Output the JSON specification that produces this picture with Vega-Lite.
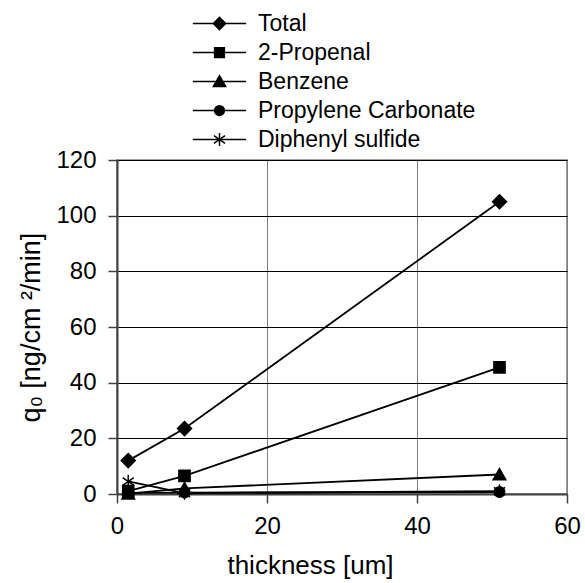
{
  "$schema": "https://vega.github.io/schema/vega-lite/v6.json",
  "width": 450,
  "height": 334,
  "autosize": {"type": "none"},
  "padding": {"left": 117, "top": 160, "right": 18, "bottom": 89},
  "background": "white",
  "config": {
    "font": "Liberation Sans",
    "view": {"stroke": "#808080", "strokeWidth": 1.5},
    "axis": {
      "labelFont": "Liberation Sans",
      "titleFont": "Liberation Sans",
      "labelFontSize": 24,
      "titleFontSize": 26,
      "titleFontWeight": "normal",
      "labelColor": "black",
      "titleColor": "black",
      "domainColor": "#404040",
      "domainWidth": 2,
      "tickColor": "#404040",
      "tickWidth": 1.5,
      "tickSize": 9
    }
  },
  "data": {
    "values": [
      {"series": "Total", "thickness": 1.5, "q0": 12},
      {"series": "Total", "thickness": 9, "q0": 23.5},
      {"series": "Total", "thickness": 51, "q0": 105},
      {"series": "2-Propenal", "thickness": 1.5, "q0": 1},
      {"series": "2-Propenal", "thickness": 9, "q0": 6.5},
      {"series": "2-Propenal", "thickness": 51, "q0": 45.5},
      {"series": "Benzene", "thickness": 1.5, "q0": 0.1},
      {"series": "Benzene", "thickness": 9, "q0": 2},
      {"series": "Benzene", "thickness": 51, "q0": 7},
      {"series": "Propylene Carbonate", "thickness": 1.5, "q0": 0.4},
      {"series": "Propylene Carbonate", "thickness": 9, "q0": 0.5},
      {"series": "Propylene Carbonate", "thickness": 51, "q0": 0.7},
      {"series": "Diphenyl sulfide", "thickness": 1.5, "q0": 4.5},
      {"series": "Diphenyl sulfide", "thickness": 9, "q0": 0.3},
      {"series": "Diphenyl sulfide", "thickness": 51, "q0": 1}
    ]
  },
  "encoding": {
    "x": {
      "field": "thickness",
      "type": "quantitative",
      "title": "thickness [um]",
      "scale": {"domain": [0, 60], "nice": false},
      "axis": {
        "values": [0, 20, 40, 60],
        "grid": true,
        "gridColor": "#808080",
        "gridWidth": 1,
        "labelPadding": 11,
        "titlePadding": 14,
        "titleX": 193,
        "titleAlign": "center",
        "labelFlush": false
      }
    },
    "y": {
      "field": "q0",
      "type": "quantitative",
      "title": "q₀ [ng/cm ²/min]",
      "scale": {"domain": [0, 120], "nice": false},
      "axis": {
        "values": [0, 20, 40, 60, 80, 100, 120],
        "grid": true,
        "gridColor": "black",
        "gridWidth": 1,
        "labelPadding": 12,
        "titlePadding": 10,
        "titleFontSize": 27,
        "labelFlush": false
      }
    }
  },
  "layer": [
    {
      "mark": {"type": "line", "color": "black", "strokeWidth": 1.8},
      "encoding": {"detail": {"field": "series"}}
    },
    {
      "mark": {"type": "point", "filled": true, "fill": "black", "stroke": "black", "strokeWidth": 1.5, "size": 196, "opacity": 1},
      "encoding": {
        "shape": {
          "field": "series",
          "scale": {
            "domain": ["Total", "2-Propenal", "Benzene", "Propylene Carbonate", "Diphenyl sulfide"],
            "range": [
              "M0,-1L1,0L0,1L-1,0Z",
              "M-0.8,-0.8H0.8V0.8H-0.8Z",
              "M0,-0.85L0.9,0.75H-0.9Z",
              "M0.75,0A0.75,0.75,0,1,1,-0.75,0A0.75,0.75,0,1,1,0.75,0Z",
              "M0,-0.95V0.95M-0.8,-0.55L0.8,0.55M-0.8,0.55L0.8,-0.55"
            ]
          },
          "legend": null
        }
      }
    },
    {
      "mark": {"type": "point", "filled": false, "color": "black", "strokeWidth": 1.5, "size": 169, "opacity": 0},
      "encoding": {
        "shape": {
          "field": "series",
          "scale": {
            "domain": ["Total", "2-Propenal", "Benzene", "Propylene Carbonate", "Diphenyl sulfide"],
            "range": [
              "M-4.1,0L4.1,0M0,-0.95L0.95,0L0,0.95L-0.95,0ZM0,-0.75L0.75,0L0,0.75L-0.75,0ZM0,-0.55L0.55,0L0,0.55L-0.55,0ZM0,-0.35L0.35,0L0,0.35L-0.35,0ZM0,-0.15L0.15,0L0,0.15L-0.15,0Z",
              "M-4.1,0L4.1,0M-0.75,-0.75L0.75,-0.75L0.75,0.75L-0.75,0.75ZM-0.55,-0.55L0.55,-0.55L0.55,0.55L-0.55,0.55ZM-0.35,-0.35L0.35,-0.35L0.35,0.35L-0.35,0.35ZM-0.15,-0.15L0.15,-0.15L0.15,0.15L-0.15,0.15Z",
              "M-4.1,0L4.1,0M0,-0.9L0.95,0.75L-0.95,0.75ZM-0.09,-0.75L0.09,-0.75M-0.17,-0.6L0.17,-0.6M-0.29,-0.4L0.29,-0.4M-0.4,-0.2L0.4,-0.2M-0.52,0L0.52,0M-0.63,0.2L0.63,0.2M-0.75,0.4L0.75,0.4M-0.86,0.6L0.86,0.6",
              "M-4.1,0L4.1,0M0.75,0A0.75,0.75,0,1,1,-0.75,0A0.75,0.75,0,1,1,0.75,0ZM0.55,0A0.55,0.55,0,1,1,-0.55,0A0.55,0.55,0,1,1,0.55,0ZM0.35,0A0.35,0.35,0,1,1,-0.35,0A0.35,0.35,0,1,1,0.35,0ZM0.15,0A0.15,0.15,0,1,1,-0.15,0A0.15,0.15,0,1,1,0.15,0Z",
              "M-4.1,0L4.1,0M0,-1L0,1M-0.85,-0.6L0.85,0.6M-0.85,0.6L0.85,-0.6"
            ]
          },
          "legend": {
            "title": null,
            "orient": "none",
            "legendX": 91,
            "legendY": -148,
            "padding": 0,
            "symbolSize": 169,
            "symbolStrokeWidth": 1.5,
            "symbolStrokeColor": "black",
            "symbolOpacity": 1,
            "labelFont": "Liberation Sans",
            "labelFontSize": 23,
            "labelColor": "black",
            "labelOffset": 27,
            "rowPadding": 5,
            "labelLimit": 400
          }
        }
      }
    }
  ],
  "resolve": {"scale": {"shape": "independent"}}
}
